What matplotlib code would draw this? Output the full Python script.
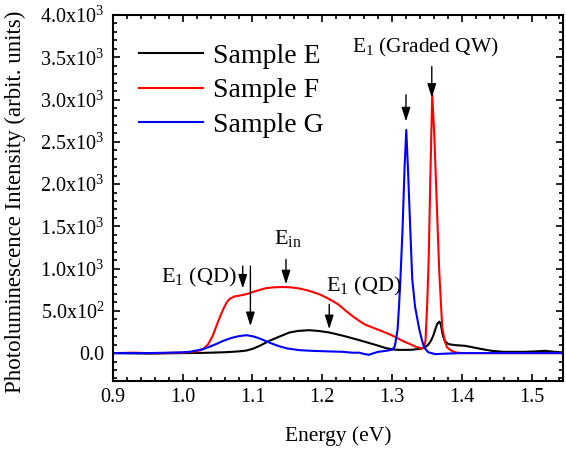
import matplotlib
matplotlib.use('Agg')
import matplotlib.pyplot as plt
from matplotlib.ticker import MultipleLocator

plt.rcParams['font.family'] = ['Liberation Serif', 'DejaVu Serif']
plt.rcParams['mathtext.fontset'] = 'custom'
plt.rcParams['mathtext.rm'] = 'Liberation Serif'
plt.rcParams['mathtext.it'] = 'Liberation Serif'
plt.rcParams['mathtext.default'] = 'regular'

# Sample E (black)
e_x = [0.90, 0.95, 1.00, 1.03, 1.06, 1.08, 1.091, 1.10, 1.11, 1.124, 1.14, 1.153,
       1.165, 1.181, 1.195, 1.21, 1.23, 1.248, 1.265, 1.281, 1.29, 1.30, 1.31, 1.327,
       1.34, 1.347, 1.352, 1.356, 1.359, 1.362, 1.365, 1.368, 1.370, 1.373, 1.376,
       1.381, 1.39, 1.405, 1.415, 1.424, 1.435, 1.443, 1.46, 1.472, 1.49, 1.505,
       1.519, 1.53, 1.545]
e_y = [0, -5, 0, 3, 10, 20, 30, 50, 85, 145, 200, 244,
       262, 271, 262, 244, 205, 165, 125, 86, 62, 45, 38, 39,
       50, 67, 100, 150, 204, 280, 350, 372, 335, 204, 140,
       106, 95, 86, 70, 55, 38, 27, 15, 15, 15, 20,
       27, 18, 8]

# Sample F (red)
f_x = [0.90, 0.93, 0.96, 0.99, 1.00, 1.02, 1.029, 1.036, 1.043, 1.05, 1.058, 1.063,
       1.067, 1.074, 1.081, 1.09, 1.096, 1.105, 1.11, 1.119, 1.13, 1.143, 1.155,
       1.167, 1.18, 1.196, 1.205, 1.215, 1.224, 1.234, 1.243, 1.253, 1.262, 1.272,
       1.284, 1.296, 1.305, 1.315, 1.325, 1.334, 1.343, 1.346, 1.348, 1.3505, 1.3525,
       1.355, 1.3576, 1.3605, 1.364, 1.3675, 1.370, 1.372, 1.376, 1.379, 1.385,
       1.391, 1.40, 1.45, 1.50, 1.545]
f_y = [0, 5, -3, 5, 5, 20, 47, 100, 204, 360, 519, 600,
       640, 670, 680, 695, 710, 735, 747, 768, 778, 782, 778,
       765, 740, 696, 660, 617, 570, 499, 440, 381, 335, 303,
       265, 224, 190, 145, 110, 75, 55, 60, 150, 600, 1100,
       2100, 3060, 2600, 1800, 1000, 600, 300, 130, 67, 30,
       8, 0, 0, 0, 0]

# Sample G (blue)
g_x = [0.90, 0.95, 0.996, 1.01, 1.029, 1.04, 1.05, 1.058, 1.07, 1.08, 1.091, 1.10,
       1.108, 1.115, 1.127, 1.139, 1.15, 1.167, 1.185, 1.21, 1.23, 1.243, 1.253,
       1.26, 1.267, 1.272, 1.28, 1.291, 1.300, 1.304, 1.306, 1.308, 1.310, 1.312,
       1.315, 1.318, 1.3204, 1.323, 1.326, 1.329, 1.333, 1.339, 1.343, 1.346, 1.352,
       1.362, 1.38, 1.40, 1.45, 1.50, 1.545]
g_y = [0, 0, 8, 15, 47, 80, 115, 145, 180, 200, 212, 200,
       180, 157, 115, 79, 55, 35, 27, 20, 15, 5, 5,
       -10, -20, -5, 15, 27, 39, 80, 180, 283, 550, 873,
       1450, 2200, 2640, 2150, 1500, 873, 550, 283, 150, 67, 10,
       -12, -5, 0, 0, 0, 0]

y_ticks = [0, 500, 1000, 1500, 2000, 2500, 3000, 3500, 4000]
y_tick_labels = ['0.0', '5.0x10$^2$', '1.0x10$^3$', '1.5x10$^3$', '2.0x10$^3$',
                 '2.5x10$^3$', '3.0x10$^3$', '3.5x10$^3$', '4.0x10$^3$']
x_ticks = [0.9, 1.0, 1.1, 1.2, 1.3, 1.4, 1.5]

fig = plt.figure(figsize=(5.66, 4.51), dpi=100)
ax = fig.add_axes([0.1996, 0.1552, 0.795, 0.8115])

ax.plot(e_x, e_y, color='black', lw=1.5, label='Sample E')
ax.plot(f_x, f_y, color='#ff0000', lw=1.5, label='Sample F')
ax.plot(g_x, g_y, color='#0000ff', lw=1.5, label='Sample G')

ax.set_xlim(0.9, 1.545)
ax.set_ylim(-330, 4000)
ax.set_xticks(x_ticks)
ax.set_xticklabels(['%.1f' % v for v in x_ticks])
ax.set_yticks(y_ticks)
ax.set_yticklabels(y_tick_labels)
ax.xaxis.set_minor_locator(MultipleLocator(0.02))
ax.yaxis.set_minor_locator(MultipleLocator(100))
ax.tick_params(which='both', direction='in', top=True, right=True, width=1.2)
ax.tick_params(which='major', length=5, labelsize=14.5)
ax.tick_params(which='minor', length=3)
ax.tick_params(axis='x', pad=5)
ax.tick_params(axis='y', pad=6)
for s in ax.spines.values():
    s.set_linewidth(1.5)

ax.set_xlabel('Energy (eV)', fontsize=15.5)
ax.set_ylabel('Photoluminescence Intensity (arbit. units)', fontsize=16.5)
ax.xaxis.set_label_coords(0.5, -0.123)
ax.yaxis.set_label_coords(-0.193, 0.49)

leg = ax.legend(loc='upper left', bbox_to_anchor=(0.015, 0.975), frameon=False,
                fontsize=20, handlelength=2.3, handletextpad=0.35,
                labelspacing=0.32, borderpad=0.2)

arrow = dict(arrowstyle='-|>,head_length=0.7,head_width=0.22', color='black',
             lw=1.0, mutation_scale=12, shrinkA=0, shrinkB=0)
# (x, y_start, y_end)
arrows = [(1.086, 1030, 763), (1.097, 1030, 319), (1.148, 1109, 814),
          (1.21, 578, 283), (1.357, 3390, 3021), (1.320, 3056, 2741)]
for x, y0, y1 in arrows:
    ax.annotate('', xy=(x, y1), xytext=(x, y0), arrowprops=arrow)

ax.text(0.969, 834, 'E$_1$ (QD)', fontsize=16, va='baseline')
ax.text(1.131, 1286, 'E$_{in}$', fontsize=16, va='baseline')
ax.text(1.206, 732, 'E$_1$ (QD)', fontsize=16, va='baseline')
ax.text(1.243, 3552, 'E$_1$ (Graded QW)', fontsize=15.5, va='baseline')

fig.savefig('out.png', dpi=100)
